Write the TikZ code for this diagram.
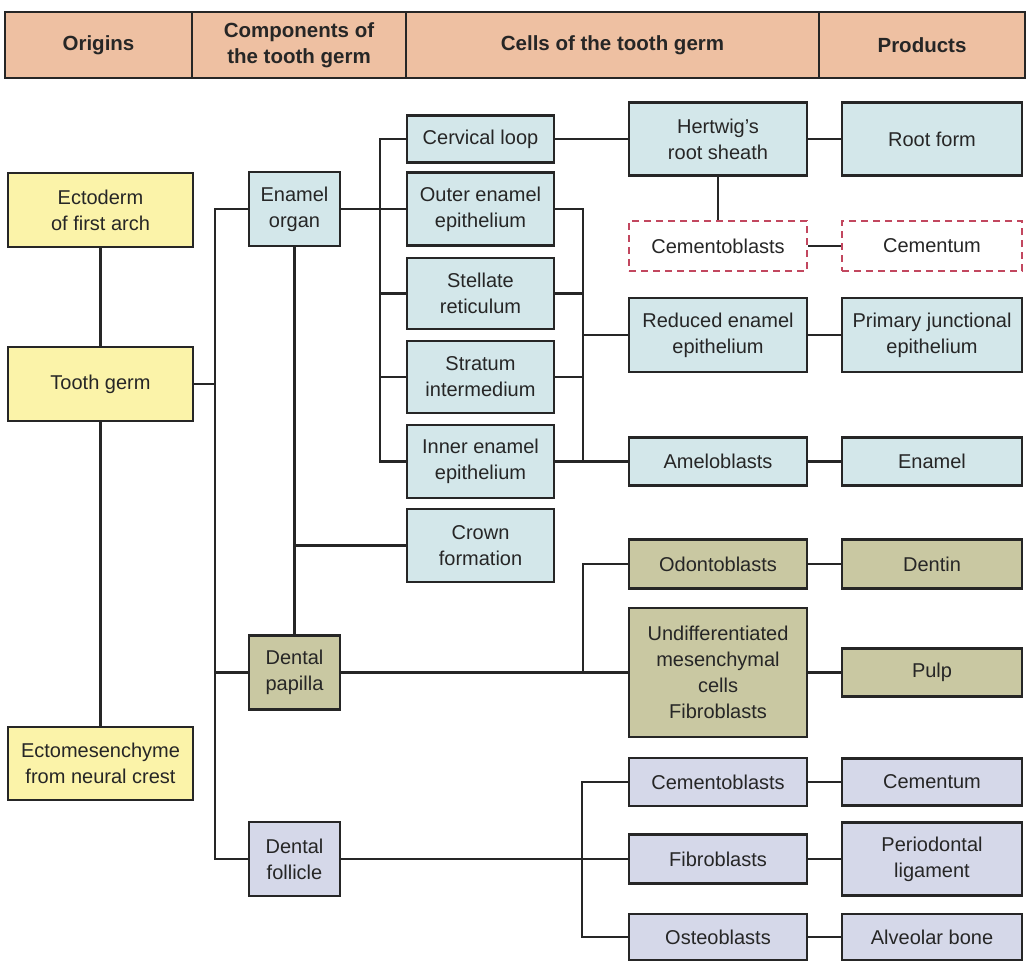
\documentclass[tikz,border=0pt]{standalone}
\usepackage{fontspec}
\setmainfont{Liberation Sans}
\usepackage{xcolor}
\usepackage{tikz}
\usetikzlibrary{positioning, calc}
\definecolor{headpeach}{HTML}{EEC0A2}
\definecolor{originyellow}{HTML}{FBF3A9}
\definecolor{enamelblue}{HTML}{D3E7EA}
\definecolor{papillaolive}{HTML}{C9C8A2}
\definecolor{folliclelilac}{HTML}{D5D8E9}
\definecolor{dashred}{HTML}{C2475F}

\begin{document}
\begin{tikzpicture}[
    x=1pt, y=-1pt,
    box/.style={rectangle, draw=black!85, fill=#1, line width=2.5pt,
                inner sep=0pt, align=center, text=black!85,
                font=\fontsize{20}{26}\selectfont},
    box/.default=enamelblue,
    origin/.style={minimum width=185pt},
    part/.style={minimum width=91pt},
    cell/.style={minimum width=147pt},
    late/.style={minimum width=178pt},
    product/.style={minimum width=180pt},
    dashbox/.style={box=white, draw=dashred, dash pattern=on 7pt off 5pt},
    head/.style={box=headpeach, minimum height=66pt,
                 font=\fontsize{20.5}{26}\selectfont\bfseries},
    link/.style={line width=2.4pt, draw=black!85}
]
\useasboundingbox (0,0) rectangle (1027,963);

% Header
\node[head, minimum width=187pt] at (98.5,45) (hOrig) {Origins};
\node[head, minimum width=214pt] at (299,45) (hComp) {Components of\\the tooth germ};
\node[head, minimum width=413pt] at (612.5,45) (hCells) {Cells of the tooth germ};
\node[head, minimum width=206pt] at (922,45) (hProd) {Products};

% Origins
\node[box=originyellow, origin, minimum height=74pt] at (100.5,210) (ectoderm) {Ectoderm\\of first arch};
\node[box=originyellow, origin, minimum height=74pt] at (100.5,384) (toothgerm) {Tooth germ};
\node[box=originyellow, origin, minimum height=73pt] at (100.5,763.5) (ectomes) {Ectomesenchyme\\from neural crest};

% Components
\node[box, part, minimum height=74pt] at (294.5,209) (enamelorgan) {Enamel\\organ};
\node[box=papillaolive, part, minimum height=74pt] at (294.5,672.5) (papilla) {Dental\\papilla};
\node[box=folliclelilac, part, minimum height=74pt] at (294.5,859) (follicle) {Dental\\follicle};

% Cells of the enamel organ
\node[box, cell, minimum height=47pt] at (480.5,139) (cervical) {Cervical loop};
\node[box, cell, minimum height=73pt] at (480.5,209) (outer) {Outer enamel\\epithelium};
\node[box, cell, minimum height=71pt] at (480.5,293.5) (stellate) {Stellate\\reticulum};
\node[box, cell, minimum height=72pt] at (480.5,377) (stratum) {Stratum\\intermedium};
\node[box, cell, minimum height=73pt] at (480.5,461.5) (inner) {Inner enamel\\epithelium};
\node[box, cell, minimum height=73pt] at (480.5,545.5) (crown) {Crown\\formation};

% Later cells
\node[box, late, minimum height=73pt] at (718,139) (hertwig) {Hertwig's\\root sheath};
\node[dashbox, late, minimum height=50pt] at (718,246) (cementodash) {Cementoblasts};
\node[box, late, minimum height=74pt] at (718,335) (reduced) {Reduced enamel\\epithelium};
\node[box, late, minimum height=48pt] at (718,461.5) (amelo) {Ameloblasts};
\node[box=papillaolive, late, minimum height=49pt] at (718,564) (odonto) {Odontoblasts};
\node[box=papillaolive, late, minimum height=129pt] at (718,672.5) (undiff) {Undifferentiated\\mesenchymal\\cells\\Fibroblasts};
\node[box=folliclelilac, late, minimum height=48pt] at (718,782) (cemento) {Cementoblasts};
\node[box=folliclelilac, late, minimum height=49pt] at (718,859) (fibro) {Fibroblasts};
\node[box=folliclelilac, late, minimum height=46pt] at (718,937) (osteo) {Osteoblasts};

% Products
\node[box, product, minimum height=73pt] at (932,139) (rootform) {Root form};
\node[dashbox, product, minimum height=50pt] at (932,246) (cementumdash) {Cementum};
\node[box, product, minimum height=74pt] at (932,335) (junctional) {Primary junctional\\epithelium};
\node[box, product, minimum height=48pt] at (932,461.5) (enamel) {Enamel};
\node[box=papillaolive, product, minimum height=49pt] at (932,564) (dentin) {Dentin};
\node[box=papillaolive, product, minimum height=48pt] at (932,672.5) (pulp) {Pulp};
\node[box=folliclelilac, product, minimum height=47pt] at (932,782) (cementum) {Cementum};
\node[box=folliclelilac, product, minimum height=73pt] at (932,859) (ligament) {Periodontal\\ligament};
\node[box=folliclelilac, product, minimum height=46pt] at (932,937) (alveolar) {Alveolar bone};

% Bus points
\coordinate (germbus) at (215,384);
\coordinate (organbus) at (380,209);
\coordinate (epibus) at (583,335);
\coordinate (papillabus) at (583,672.5);
\coordinate (folliclebus) at (582,859);

% Origins
\draw[link] (ectoderm) -- (toothgerm);
\draw[link] (toothgerm) -- (ectomes);
\draw[link] (toothgerm) -- (germbus);
\draw[link] (enamelorgan.west) -| (germbus) |- (follicle.west);
\draw[link] (germbus |- papilla) -- (papilla);

% Enamel organ
\draw[link] (enamelorgan) -- (outer);
\draw[link] (cervical.west) -| (organbus) |- (inner.west);
\draw[link] (organbus |- stellate) -- (stellate);
\draw[link] (organbus |- stratum) -- (stratum);
\draw[link] (enamelorgan) -- (papilla);
\draw[link] (enamelorgan |- crown) -- (crown);

% Root
\draw[link] (cervical) -- (hertwig);
\draw[link] (hertwig) -- (rootform);
\draw[link] (hertwig) -- (cementodash);
\draw[link] (cementodash) -- (cementumdash);

% Epithelium
\draw[link] (outer.east) -| (epibus) |- (inner.east);
\draw[link] (epibus |- stellate) -- (stellate);
\draw[link] (epibus |- stratum) -- (stratum);
\draw[link] (epibus) -- (reduced);
\draw[link] (inner) -- (amelo);
\draw[link] (reduced) -- (junctional);
\draw[link] (amelo) -- (enamel);

% Papilla
\draw[link] (papilla) -- (undiff);
\draw[link] (odonto.west) -| (papillabus);
\draw[link] (odonto) -- (dentin);
\draw[link] (undiff) -- (pulp);

% Follicle
\draw[link] (follicle) -- (fibro);
\draw[link] (cemento.west) -| (folliclebus) |- (osteo.west);
\draw[link] (cemento) -- (cementum);
\draw[link] (fibro) -- (ligament);
\draw[link] (osteo) -- (alveolar);

\end{tikzpicture}
\end{document}
